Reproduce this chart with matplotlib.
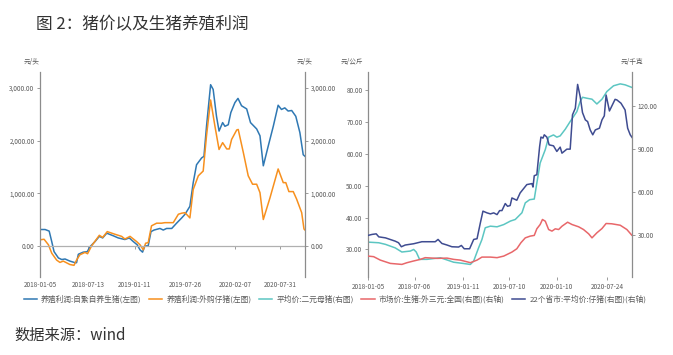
import matplotlib
matplotlib.use('Agg')
import matplotlib.pyplot as plt
import matplotlib.ticker as mticker
import pandas as pd

plt.rcParams['font.family'] = ['Noto Sans CJK SC', 'DejaVu Sans']
plt.rcParams['axes.unicode_minus'] = False

# ---- left chart: 养殖利润 (元/头) ----
profit_self_dates = ['2018-01-05', '2018-01-25', '2018-02-10', '2018-02-20', '2018-03-01', '2018-03-18',
                     '2018-03-31', '2018-04-13', '2018-05-02', '2018-05-22', '2018-05-28', '2018-06-04',
                     '2018-06-23', '2018-07-09', '2018-07-19', '2018-08-08', '2018-08-25', '2018-09-07',
                     '2018-09-23', '2018-10-19', '2018-11-07', '2018-12-03', '2018-12-20', '2019-01-05',
                     '2019-01-20', '2019-01-31', '2019-02-10', '2019-02-19', '2019-03-04', '2019-03-15',
                     '2019-03-27', '2019-04-19', '2019-05-02', '2019-05-15', '2019-06-04', '2019-06-23',
                     '2019-07-13', '2019-07-26', '2019-08-14', '2019-08-27', '2019-09-09', '2019-09-29',
                     '2019-10-08', '2019-10-18', '2019-11-03', '2019-11-13', '2019-11-26', '2019-12-06',
                     '2019-12-20', '2019-12-29', '2020-01-11', '2020-01-21', '2020-02-06', '2020-02-18',
                     '2020-03-03', '2020-03-23', '2020-04-07', '2020-05-01', '2020-05-14', '2020-05-27',
                     '2020-06-15', '2020-07-05', '2020-07-24', '2020-08-06', '2020-08-19', '2020-09-01',
                     '2020-09-15', '2020-10-01', '2020-10-17', '2020-10-30', '2020-11-06']
profit_self = [310, 310, 280, 80, -110, -230, -260, -250, -290, -320, -320, -160,
               -120, -110, -20, 80, 180, 150, 240, 190, 150, 120, 150, 80,
               20, -76, -120, 0, 0, 270, 300, 330, 300, 330, 330, 430,
               530, 600, 750, 1200, 1540, 1670, 1700, 2270, 3060, 2970, 2460, 2180,
               2340, 2270, 2300, 2530, 2720, 2800, 2660, 2600, 2340, 2220, 2090, 1520,
               1890, 2270, 2670, 2590, 2620, 2560, 2570, 2460, 2150, 1730, 1700]

profit_buy_dates = ['2018-01-05', '2018-01-21', '2018-02-07', '2018-02-20', '2018-03-11', '2018-03-24',
                    '2018-04-06', '2018-05-02', '2018-05-18', '2018-05-28', '2018-06-10', '2018-06-30',
                    '2018-07-10', '2018-07-26', '2018-08-25', '2018-09-07', '2018-09-25', '2018-10-25',
                    '2018-11-20', '2018-12-03', '2018-12-23', '2019-01-18', '2019-01-31', '2019-02-13',
                    '2019-02-22', '2019-03-04', '2019-03-17', '2019-04-06', '2019-04-25', '2019-05-08',
                    '2019-06-10', '2019-06-30', '2019-07-13', '2019-07-26', '2019-08-14', '2019-08-27',
                    '2019-09-16', '2019-10-05', '2019-10-18', '2019-11-03', '2019-11-20', '2019-12-06',
                    '2019-12-20', '2020-01-05', '2020-01-15', '2020-01-24', '2020-02-13', '2020-02-19',
                    '2020-03-10', '2020-03-29', '2020-04-15', '2020-05-01', '2020-05-14', '2020-05-27',
                    '2020-06-22', '2020-07-24', '2020-08-13', '2020-08-23', '2020-09-04', '2020-09-21',
                    '2020-10-04', '2020-10-24', '2020-11-02', '2020-11-06']
profit_buy = [114, 125, 20, -140, -270, -315, -290, -355, -370, -270, -170, -125,
              -150, 0, 200, 160, 270, 220, 180, 130, 180, 80, 20, -76,
              50, 60, 380, 430, 430, 440, 440, 600, 620, 630, 530, 1070,
              1330, 1420, 2090, 2770, 2270, 1830, 1960, 1840, 1840, 2020, 2200, 2210,
              1770, 1330, 1170, 1170, 1010, 500, 910, 1460, 1200, 1200, 1030, 1030,
              890, 630, 320, 300]

left_ticks = ['2018-01-05', '2018-07-13', '2019-01-11', '2019-07-26', '2020-02-07', '2020-07-31']

# ---- right chart: 价格 ----
sow_dates = ['2018-01-05', '2018-02-16', '2018-03-14', '2018-04-21', '2018-05-17', '2018-06-19',
             '2018-07-02', '2018-07-12', '2018-07-25', '2018-08-23', '2018-10-14', '2018-11-02',
             '2018-12-05', '2019-01-13', '2019-02-08', '2019-02-21', '2019-03-12', '2019-03-25',
             '2019-04-07', '2019-04-27', '2019-05-23', '2019-06-18', '2019-07-14', '2019-08-02',
             '2019-08-28', '2019-09-10', '2019-09-27', '2019-10-15', '2019-10-25', '2019-11-07',
             '2019-11-27', '2019-12-10', '2019-12-29', '2020-01-11', '2020-01-24', '2020-02-13',
             '2020-03-03', '2020-03-29', '2020-04-11', '2020-04-20', '2020-05-07', '2020-05-27',
             '2020-06-15', '2020-07-05', '2020-07-24', '2020-08-19', '2020-09-14', '2020-10-03',
             '2020-10-29']
sow_price = [32.3, 32.1, 31.6, 30.5, 29.2, 29.5, 30.0, 29.2, 26.9, 26.9, 27.4, 26.9,
             26.0, 25.6, 25.3, 26.4, 30.5, 33.1, 36.8, 37.3, 37.1, 37.8, 38.9, 39.4,
             41.5, 44.6, 45.6, 45.8, 50.8, 57.1, 61.3, 65.2, 65.9, 65.2, 65.6, 67.7,
             70.1, 73.2, 76.4, 77.7, 77.4, 77.1, 75.6, 77.1, 79.5, 81.3, 81.9, 81.6,
             80.8]

hog_dates = ['2018-01-05', '2018-01-27', '2018-02-22', '2018-04-02', '2018-05-17', '2018-06-06',
             '2018-07-02', '2018-07-28', '2018-08-16', '2018-10-01', '2018-11-09', '2018-12-05',
             '2018-12-31', '2019-02-08', '2019-03-06', '2019-03-25', '2019-04-27', '2019-05-23',
             '2019-06-18', '2019-07-20', '2019-08-08', '2019-08-24', '2019-09-10', '2019-09-29',
             '2019-10-15', '2019-10-25', '2019-11-07', '2019-11-16', '2019-11-27', '2019-12-10',
             '2019-12-23', '2020-01-05', '2020-01-18', '2020-01-31', '2020-02-22', '2020-03-10',
             '2020-04-05', '2020-04-24', '2020-05-14', '2020-05-27', '2020-06-15', '2020-07-05',
             '2020-07-21', '2020-08-12', '2020-09-14', '2020-10-10', '2020-10-29']
hog_price = [15.4, 15.0, 12.6, 10.3, 9.6, 10.8, 12.0, 13.1, 14.3, 13.8, 14.0, 13.1,
             12.6, 10.8, 12.6, 14.7, 14.7, 14.3, 15.4, 18.2, 20.5, 24.7, 28.1, 29.3,
             29.8, 34.4, 37.4, 40.9, 39.7, 33.9, 32.8, 34.4, 33.9, 36.2, 39.0, 37.4,
             35.8, 33.9, 30.9, 28.1, 31.6, 34.6, 38.1, 37.9, 36.9, 33.9, 30.0]

piglet_dates = ['2018-01-05', '2018-01-21', '2018-02-06', '2018-02-16', '2018-03-14', '2018-04-21',
                '2018-05-04', '2018-05-15', '2018-05-30', '2018-07-02', '2018-08-03', '2018-09-05',
                '2018-09-24', '2018-10-05', '2018-10-20', '2018-11-09', '2018-11-28', '2018-12-24',
                '2019-01-04', '2019-01-15', '2019-02-05', '2019-02-21', '2019-03-06', '2019-03-19',
                '2019-03-29', '2019-04-14', '2019-04-27', '2019-05-10', '2019-05-23', '2019-06-02',
                '2019-06-11', '2019-06-24', '2019-07-03', '2019-07-13', '2019-07-20', '2019-08-08',
                '2019-08-21', '2019-09-16', '2019-10-06', '2019-10-10', '2019-10-15', '2019-10-25',
                '2019-11-05', '2019-11-10', '2019-11-18', '2019-11-23', '2019-12-03', '2019-12-12',
                '2019-12-29', '2020-01-11', '2020-01-24', '2020-01-31', '2020-02-19', '2020-03-03',
                '2020-03-12', '2020-03-23', '2020-04-01', '2020-04-11', '2020-04-20', '2020-05-01',
                '2020-05-10', '2020-05-20', '2020-05-30', '2020-06-09', '2020-06-25', '2020-07-05',
                '2020-07-14', '2020-07-21', '2020-08-03', '2020-08-25', '2020-09-01', '2020-09-17',
                '2020-10-03', '2020-10-13', '2020-10-23', '2020-11-01']
piglet_price = [29.8, 30.5, 30.9, 28.8, 28.1, 25.8, 24.7, 21.9, 23.1, 24.0, 25.4, 25.4,
                25.4, 27.0, 24.2, 23.1, 21.9, 21.7, 22.8, 20.5, 20.5, 27.0, 27.5, 38.6,
                46.7, 45.5, 44.8, 45.5, 44.3, 47.1, 47.1, 52.0, 50.1, 50.6, 55.9, 54.3,
                59.4, 65.2, 65.9, 63.5, 71.4, 72.1, 91.8, 98.3, 97.6, 99.9, 98.3, 92.9,
                92.2, 88.3, 91.3, 87.1, 89.9, 89.9, 113.8, 118.4, 135.0, 126.5, 115.4, 110.3,
                109.1, 103.3, 99.9, 103.3, 104.5, 110.3, 113.1, 127.6, 116.5, 124.6, 124.2, 121.9,
                117.2, 104.5, 99.9, 97.6]

right_ticks = ['2018-01-05', '2018-07-06', '2019-01-11', '2019-07-10', '2020-01-10', '2020-07-24']

labels = ['养殖利润:自繁自养生猪(左图)', '养殖利润:外购仔猪(左图)', '平均价:二元母猪(右图)',
          '市场价:生猪:外三元:全国(右图)(右轴)', '22个省市:平均价:仔猪(右图)(右轴)']
colors = ['#2f78b3', '#f7901e', '#5cc6c2', '#e8676a', '#3f4c91']

spine_c = '#8c8c8c'
tick_c = '#595959'
fmt = mticker.FuncFormatter(lambda v, p: f'{v:,.2f}')

fig = plt.figure(figsize=(6.73, 3.55), dpi=100)


def style_y(ax, side):
    for s in ['top', 'left', 'right', 'bottom']:
        ax.spines[s].set_visible(False)
    ax.spines[side].set_visible(True)
    ax.spines[side].set_color(spine_c)
    ax.spines[side].set_linewidth(0.9)
    ax.tick_params(axis='y', labelsize=4.6, labelcolor=tick_c, color=spine_c,
                   length=2.5, width=0.6, pad=1.5)
    ax.yaxis.set_major_formatter(fmt)


# left chart
axl = fig.add_axes([0.0594, 0.22, 0.3938, 0.577])
axl.plot(pd.to_datetime(profit_self_dates), profit_self, color=colors[0], lw=1.1, label=labels[0])
axl.plot(pd.to_datetime(profit_buy_dates), profit_buy, color=colors[1], lw=1.1, label=labels[1])
axl.set_ylim(-590, 3300)
axl.set_xlim(pd.Timestamp('2018-01-05'), pd.Timestamp('2020-11-06'))
axl.set_yticks([0, 1000, 2000, 3000])
style_y(axl, 'left')
axl.spines['bottom'].set_visible(True)
axl.spines['bottom'].set_position(('data', 0))
axl.spines['bottom'].set_color('#b0b0b0')
axl.spines['bottom'].set_linewidth(0.9)
lt = pd.to_datetime(left_ticks)
axl.set_xticks(lt)
axl.tick_params(axis='x', labelbottom=False, length=2.5, width=0.6, color=spine_c)
secl = axl.secondary_xaxis(0)
secl.set_xticks(lt, [d.strftime('%Y-%m-%d') for d in lt])
secl.spines['bottom'].set_visible(False)
secl.tick_params(axis='x', length=0, labelsize=4.6, labelcolor=tick_c, pad=3)
axl2 = axl.twinx()
axl2.set_ylim(axl.get_ylim())
axl2.set_yticks([0, 1000, 2000, 3000])
style_y(axl2, 'right')
axl.text(0, 1.03, '元/头', transform=axl.transAxes, ha='right', va='bottom', fontsize=4.8, color=tick_c)
axl.text(1, 1.03, '元/头', transform=axl.transAxes, ha='center', va='bottom', fontsize=4.8, color=tick_c)

# right chart
axr = fig.add_axes([0.5468, 0.22, 0.3923, 0.577])
axr.plot(pd.to_datetime(sow_dates), sow_price, color=colors[2], lw=1.1, label=labels[2])
axr.set_ylim(21.4, 85.6)
axr.set_xlim(pd.Timestamp('2018-01-05'), pd.Timestamp('2020-10-30'))
axr.set_yticks([30, 40, 50, 60, 70, 80])
style_y(axr, 'left')
rt = pd.to_datetime(right_ticks)
axr.set_xticks(rt, [d.strftime('%Y-%m-%d') for d in rt])
axr.tick_params(axis='x', length=2.5, width=0.6, color=spine_c, labelsize=4.6,
                labelcolor=tick_c, pad=2)
axr2 = axr.twinx()
axr2.plot(pd.to_datetime(hog_dates), hog_price, color=colors[3], lw=1.1, label=labels[3])
axr2.plot(pd.to_datetime(piglet_dates), piglet_price, color=colors[4], lw=1.1, label=labels[4])
axr2.set_ylim(0.9, 143.6)
axr2.set_yticks([30, 60, 90, 120])
style_y(axr2, 'right')
axr.text(-0.02, 1.03, '元/公斤', transform=axr.transAxes, ha='right', va='bottom', fontsize=4.8, color=tick_c)
axr.text(1, 1.03, '元/千克', transform=axr.transAxes, ha='center', va='bottom', fontsize=4.8, color=tick_c)

handles = axl.get_lines() + axr.get_lines() + axr2.get_lines()
fig.legend(handles, labels, loc='center', bbox_to_anchor=(335 / 673, 1 - 299 / 355), ncol=5,
           frameon=False, fontsize=5.6, labelcolor=tick_c, handlelength=1.7, handletextpad=0.5,
           columnspacing=1.0, borderaxespad=0)

fig.text(36 / 673, 1 - 25 / 355, '图 2：猪价以及生猪养殖利润', ha='left', va='center', fontsize=12, color='#333333')
fig.text(14 / 673, 1 - 335 / 355, '数据来源：wind', ha='left', va='center', fontsize=11, color='#333333')

fig.savefig('out.png', dpi=100)
